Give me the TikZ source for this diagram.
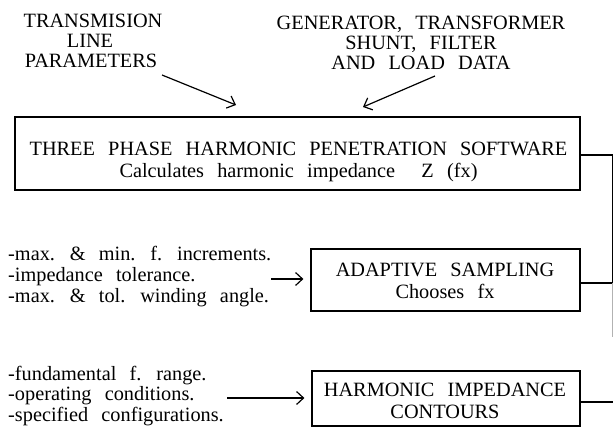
\documentclass[tikz,border=0pt]{standalone}
\usepackage{fontspec}
\setmainfont{Liberation Serif}[WordSpace=2.6]
\usetikzlibrary{arrows.meta}
\begin{document}
\begin{tikzpicture}[x=1pt,y=-1pt,
  txt/.style={font=\fontsize{20.3}{22}\selectfont, inner sep=0pt, anchor=base},
  lst/.style={font=\fontsize{20.3}{22}\selectfont, inner sep=0pt, anchor=base west},
  boxx/.style={draw, line width=1.2pt, inner sep=0pt},
  arr/.style={line width=1.2pt, -{Straight Barb[length=7pt,width=13pt,line width=1.2pt]}},
  wire/.style={line width=1.2pt}]
\useasboundingbox (0,0) rectangle (614,428);
% top texts
\node[txt] (tl1) at (93,28) {TRANSMISION};
\node[txt] (tl2) at (90,48) {LINE};
\node[txt] (tl3) at (91,68) {PARAMETERS};
\node[txt] (tr1) at (421,30) {GENERATOR, TRANSFORMER};
\node[txt] (tr2) at (421,50) {SHUNT, FILTER};
\node[txt] (tr3) at (421,70) {AND LOAD DATA};
\coordinate (a1s) at (162,75);
\coordinate (a1e) at (236,105);
\coordinate (a2s) at (435,76);
\coordinate (a2e) at (363,107);
\draw[arr] (a1s) -- (a1e);
\draw[arr] (a2s) -- (a2e);
% main box
\node[boxx, minimum width=565pt, minimum height=73pt] (main) at (297.5,153.5) {};
\node[txt] (m1) at (298.5,155) {THREE PHASE HARMONIC PENETRATION SOFTWARE};
\node[txt] (m2) at (298.5,177) {Calculates harmonic impedance \ Z (fx)};
% adaptive
\node[boxx, minimum width=269pt, minimum height=62pt] (adap) at (445.5,280) {};
\node[txt] (ad1) at (445,276) {ADAPTIVE SAMPLING};
\node[txt] (ad2) at (445,298) {Chooses fx};
% contours
\node[boxx, minimum width=268pt, minimum height=55pt] (cont) at (446,398.5) {};
\node[txt] (c1) at (445,396) {HARMONIC IMPEDANCE};
\node[txt] (c2) at (445,418) {CONTOURS};
% left lists
\node[lst] (l11) at (8,260) {-max. \& min. f. increments.};
\node[lst] (l12) at (8,281) {-impedance tolerance.};
\node[lst] (l13) at (8,302) {-max. \& tol. winding angle.};
\node[lst] (l21) at (8,380) {-fundamental f. range.};
\node[lst] (l22) at (8,400.5) {-operating conditions.};
\node[lst] (l23) at (8,421) {-specified configurations.};
\coordinate (b1s) at (271,279);
\coordinate (b2s) at (227,398);
\draw[arr, shorten >=7pt] (b1s) -- (adap.west |- b1s);
\draw[arr, shorten >=7pt] (b2s) -- (cont.west |- b2s);
% right bus
\coordinate (bus1) at (612.5,155);
\coordinate (bus2) at (612.5,283);
\coordinate (bus3) at (612.5,402);
\coordinate (busend) at (612.5,337);
\draw[wire] (main.east |- bus1) -- (bus1) -- (bus2);
\draw[wire] (adap.east |- bus2) -- (bus2);
\draw[wire, gray!60] (bus2) -- (busend);
\draw[wire] (cont.east |- bus3) -- (bus3);
\end{tikzpicture}
\end{document}
